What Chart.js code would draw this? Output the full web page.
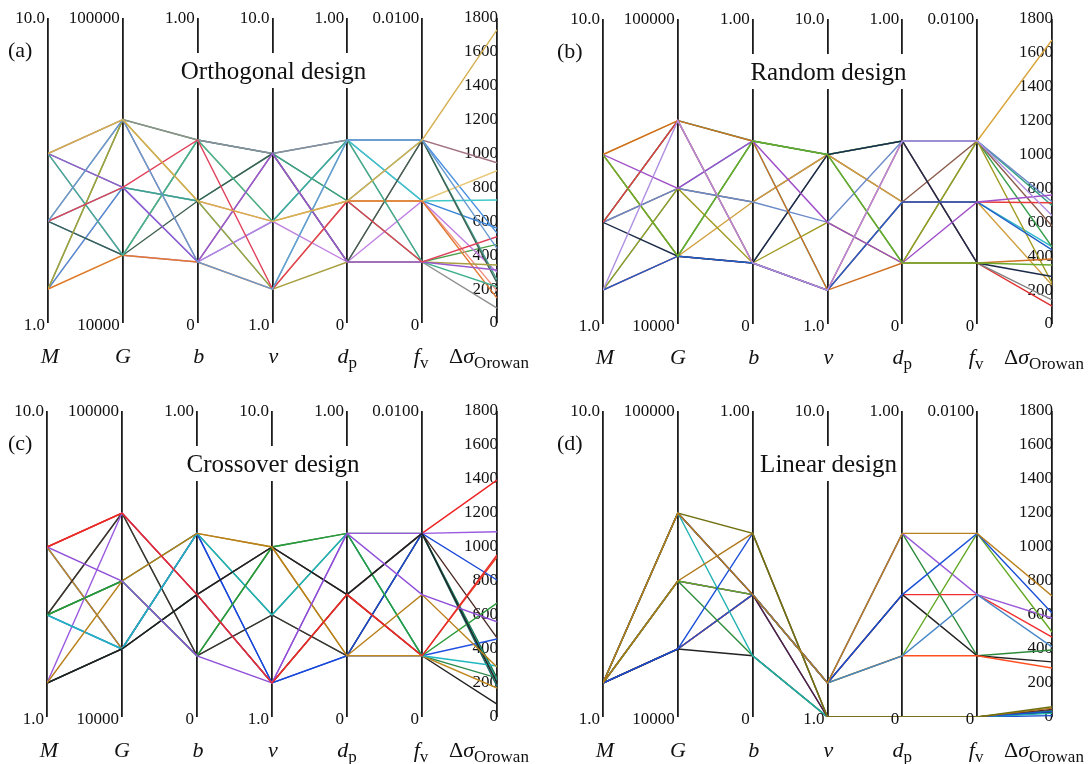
<!DOCTYPE html>
<html><head><meta charset="utf-8">
<script src="https://cdn.jsdelivr.net/npm/chart.js@4/dist/chart.umd.min.js"></script>
<style>
html,body{margin:0;padding:0;background:#fff;}
#wrap{position:relative;width:1090px;height:764px;overflow:hidden;background:#fff;}
canvas{position:absolute;}
</style></head><body><div id="wrap">
<canvas id="ca" width="545" height="382" style="left:0;top:0"></canvas>
<canvas id="cb" width="545" height="382" style="left:545px;top:0"></canvas>
<canvas id="cc" width="545" height="382" style="left:0;top:382px"></canvas>
<canvas id="cd" width="545" height="382" style="left:545px;top:382px"></canvas>
</div>
<script>
// ---- axes ----
const axisNames = ['M','G','b','v','dp','fv','dsigma'];
const axisMin = [1, 10000, 0, 1, 0, 0, 0];
const axisMax = [10, 100000, 1, 10, 1, 0.01, 1800];
const topLabels = ['10.0','100000','1.00','10.0','1.00','0.0100'];
const bottomLabels = ['1.0','10000','0','1.0','0','0'];

// ---- (a) Orthogonal design ----
const orthoM  = [2,2,6,4,2,4,6,2,6,4,4,2,2,6,6,4,4,6];
const orthoG  = [70000,50000,70000,30000,50000,50000,30000,30000,50000,70000,30000,70000,30000,30000,50000,50000,70000,70000];
const orthoB  = [0.6,0.4,0.2,0.6,0.2,0.4,0.2,0.6,0.4,0.6,0.4,0.4,0.2,0.6,0.2,0.6,0.2,0.4];
const orthoV  = [6,4,6,6,4,2,4,4,6,6,6,2,2,4,6,2,2,4];
const orthoDp = [0.4,0.4,0.2,0.6,0.6,0.6,0.2,0.4,0.4,0.6,0.2,0.2,0.4,0.6,0.2,0.4,0.6,0.4];
const orthoFv = [0.002,0.004,0.006,0.004,0.006,0.004,0.004,0.004,0.006,0.002,0.006,0.002,0.004,0.002,0.002,0.002,0.006,0.006];
const orthoDs = [464,190,946,560,531,726,300,899,255,88,236,342,147,214,313,509,440,1730];
const orthoColors = ['#4aa04a','#f09080','#a07080','#3a86d8','#4a90e0','#40c8c8','#c080e0','#e8c878','#40a090',
                     '#909090','#3e6050','#a8a040','#e07a30','#40b090','#9a5ad0','#e0405a','#6a9ad0','#d4b050'];

// ---- (b) Random design ----
const randM  = [6,2,4,2,4,6,4,6,4,2,4,6,4,2,6,6,2];
const randG  = [70000,30000,70000,50000,70000,30000,50000,30000,50000,50000,30000,70000,70000,30000,50000,30000,70000];
const randB  = [0.6,0.2,0.2,0.6,0.6,0.6,0.4,0.4,0.4,0.2,0.2,0.6,0.2,0.2,0.6,0.6,0.2];
const randV  = [6,2,6,2,6,6,6,6,4,4,6,2,2,2,4,6,2];
const randDp = [0.6,0.6,0.6,0.4,0.6,0.2,0.4,0.4,0.6,0.2,0.6,0.2,0.4,0.4,0.2,0.2,0.6];
const randFv = [0.006,0.002,0.002,0.004,0.006,0.006,0.006,0.004,0.006,0.006,0.002,0.002,0.004,0.004,0.004,0.002,0.006];
const randDs = [1676,106,142,457,700,456,578,230,722,242,280,384,716,437,761,348,640];
const randColors = ['#d9a43c','#e03030','#808080','#30b8c8','#30a080','#3aa050','#8a5a4a','#d0a040','#6a8ac8',
                    '#a09a20','#1a2a48','#d07020','#e83a3a','#2060c8','#a050c8','#6aaa2a','#b090e0'];

// ---- (c) Crossover design ----
const crossM  = [6,2,4,6,4,2,6,4,6,4,4,2,4,4,2,2,6,6];
const crossG  = [70000,30000,50000,30000,50000,30000,70000,70000,30000,70000,30000,70000,30000,50000,30000,50000,50000,70000];
const crossB  = [0.4,0.4,0.6,0.6,0.2,0.4,0.4,0.2,0.6,0.2,0.6,0.4,0.6,0.2,0.4,0.6,0.2,0.4];
const crossV  = [6,6,4,2,6,2,2,4,6,4,2,2,4,6,6,6,2,2];
const crossDp = [0.4,0.4,0.6,0.2,0.6,0.4,0.4,0.2,0.2,0.2,0.2,0.6,0.6,0.6,0.4,0.2,0.6,0.4];
const crossFv = [0.006,0.006,0.006,0.002,0.002,0.002,0.002,0.006,0.002,0.006,0.006,0.006,0.002,0.002,0.006,0.004,0.004,0.002];
const crossDs = [1394,180,230,459,230,76,940,215,170,465,806,1090,300,670,200,294,560,953];
const crossColors = ['#ee2222','#1a6a6a','#1a6a3a','#2050e0','#2a8a4a','#222222','#e84020','#1a9a8a','#c08a20',
                     '#4a2a25','#1a48d8','#9a5ae0','#20b8c0','#2a9a3a','#222222','#b8801a','#9050d8','#e82a2a'];

// ---- (d) Linear design ----
const linM  = [2,2,2,2,2,2,2,2,2,2,2,2,2,2,2,2,2];
const linG  = [30000,30000,50000,30000,50000,50000,70000,70000,30000,30000,50000,70000,70000,30000,50000,70000,70000];
const linB  = [0.4,0.4,0.4,0.4,0.4,0.4,0.4,0.4,0.4,0.2,0.2,0.2,0.4,0.6,0.6,0.6,0.4];
const linV  = [2,2,2,2,2,2,2,2,1,1,1,1,1,1,1,1,2];
const linDp = [0.6,0.4,0.4,0.2,0.6,0.2,0.2,0.4,0,0,0,0,0,0,0,0,0.6];
const linFv = [0.002,0.004,0.002,0.002,0.004,0.006,0.004,0.006,0,0,0,0,0,0,0,0,0.006];
const linDs = [394,470,324,288,582,500,412,612,8,28,38,22,45,33,52,60,712];
const linColors = ['#2a8a3a','#f03030','#222222','#ff5020','#9a5ad8','#60a820','#4a88c8','#1a50d8',
                   '#2050d0','#222222','#2a8a3a','#20b0b0','#5a2030','#1a50d8','#b07818','#707010','#b8801e'];

const SERIF = '"Liberation Serif", "Times New Roman", serif';

function fontFor(r) {
  if (r.sub) return '17px ' + SERIF;
  return (r.it ? 'italic ' : '') + '22px ' + SERIF;
}
const axisTitleRuns = [
  [{t:'M', it:true}],
  [{t:'G', it:true}],
  [{t:'b', it:true}],
  [{t:'v', it:true}],
  [{t:'d', it:true},{t:'p', sub:true}],
  [{t:'f', it:true},{t:'v', sub:true}],
  [{t:'\u0394'},{t:'\u03C3', it:true},{t:'Orowan', sub:true}]
];
const axisTitleShift = [2,0,1,1,0,-1,-8];

function drawRuns(ctx, runs, cx, y) {
  let w = 0;
  runs.forEach(r => { ctx.font = fontFor(r); r.w = ctx.measureText(r.t).width; w += r.w; });
  let x = cx - w / 2;
  ctx.textAlign = 'left';
  ctx.textBaseline = 'alphabetic';
  runs.forEach(r => { ctx.font = fontFor(r); ctx.fillText(r.t, x, y + (r.sub ? 5 : 0)); x += r.w; });
}

function makePanel(id, cols, colors, cfg) {
  const n = cols[0].length;
  const datasets = [];
  for (let i = 0; i < n; i++) {
    datasets.push({
      data: cols.map((arr, k) => ({x: k, y: (arr[i] - axisMin[k]) / (axisMax[k] - axisMin[k])})),
      borderColor: colors[i],
      borderWidth: 1.4,
      pointRadius: 0,
      tension: 0,
      fill: false,
      order: n - i   // later lines are painted on top
    });
  }
  const textPlugin = {
    id: 'txt' + id,
    afterDraw(chart) {
      const ctx = chart.ctx, xs = chart.scales.x, a = chart.chartArea;
      ctx.save();
      ctx.fillStyle = '#111';
      ctx.font = '17px ' + SERIF;
      ctx.textAlign = 'right';
      ctx.textBaseline = 'middle';
      for (let k = 0; k < 6; k++) {
        const px = xs.getPixelForValue(k);
        ctx.fillText(topLabels[k], px - 3, a.top + 0.5);
        ctx.fillText(bottomLabels[k], px - 3, a.bottom + 3);
      }
      for (let k = 0; k < 7; k++) {
        drawRuns(ctx, axisTitleRuns[k], xs.getPixelForValue(k) + axisTitleShift[k], a.bottom + 40);
      }
      ctx.font = '22px ' + SERIF;
      ctx.textAlign = 'left';
      ctx.textBaseline = 'alphabetic';
      ctx.fillText(cfg.letter, cfg.letterX, a.top + 39);
      ctx.font = '25px ' + SERIF;
      const w = ctx.measureText(cfg.title).width;
      const cx = xs.getPixelForValue(3) + 1;
      ctx.fillStyle = '#fff';
      ctx.fillRect(cx - w / 2 - 3, a.top + 35, w + 6, 35);
      ctx.fillStyle = '#111';
      ctx.textAlign = 'center';
      ctx.fillText(cfg.title, cx, a.top + 61);
      ctx.restore();
    }
  };
  return new Chart(document.getElementById(id), {
    type: 'line',
    data: {datasets},
    options: {
      responsive: false,
      animation: false,
      devicePixelRatio: 1,
      layout: {padding: cfg.pad},
      plugins: {legend: {display: false}, tooltip: {enabled: false}},
      scales: {
        x: {type: 'linear', min: 0, max: 6,
            ticks: {display: false, stepSize: 1},
            grid: {color: '#1c1c1c', lineWidth: 1.8, drawTicks: false},
            border: {display: false}},
        y: {type: 'linear', min: 0, max: 1, display: false},
        ds: {type: 'linear', position: 'right', min: 0, max: 1800,
             ticks: {stepSize: 200, mirror: true, padding: 1, color: '#111',
                     font: {family: SERIF, size: 17},
                     callback: (v) => String(v)},
             grid: {display: false, drawTicks: false},
             border: {display: false},
             afterFit(s) { s.width = 0; }}
      }
    },
    plugins: [textPlugin]
  });
}

makePanel('ca', [orthoM, orthoG, orthoB, orthoV, orthoDp, orthoFv, orthoDs], orthoColors,
  {pad: {left: 48, right: 48, top: 18, bottom: 59}, letter: '(a)', letterX: 8, title: 'Orthogonal design'});
makePanel('cb', [randM, randG, randB, randV, randDp, randFv, randDs], randColors,
  {pad: {left: 58, right: 38, top: 19, bottom: 58}, letter: '(b)', letterX: 12, title: 'Random design'});
makePanel('cc', [crossM, crossG, crossB, crossV, crossDp, crossFv, crossDs], crossColors,
  {pad: {left: 47, right: 48, top: 29, bottom: 47}, letter: '(c)', letterX: 8, title: 'Crossover design'});
makePanel('cd', [linM, linG, linB, linV, linDp, linFv, linDs], linColors,
  {pad: {left: 58, right: 38, top: 29, bottom: 47}, letter: '(d)', letterX: 12, title: 'Linear design'});
</script>
</body></html>
